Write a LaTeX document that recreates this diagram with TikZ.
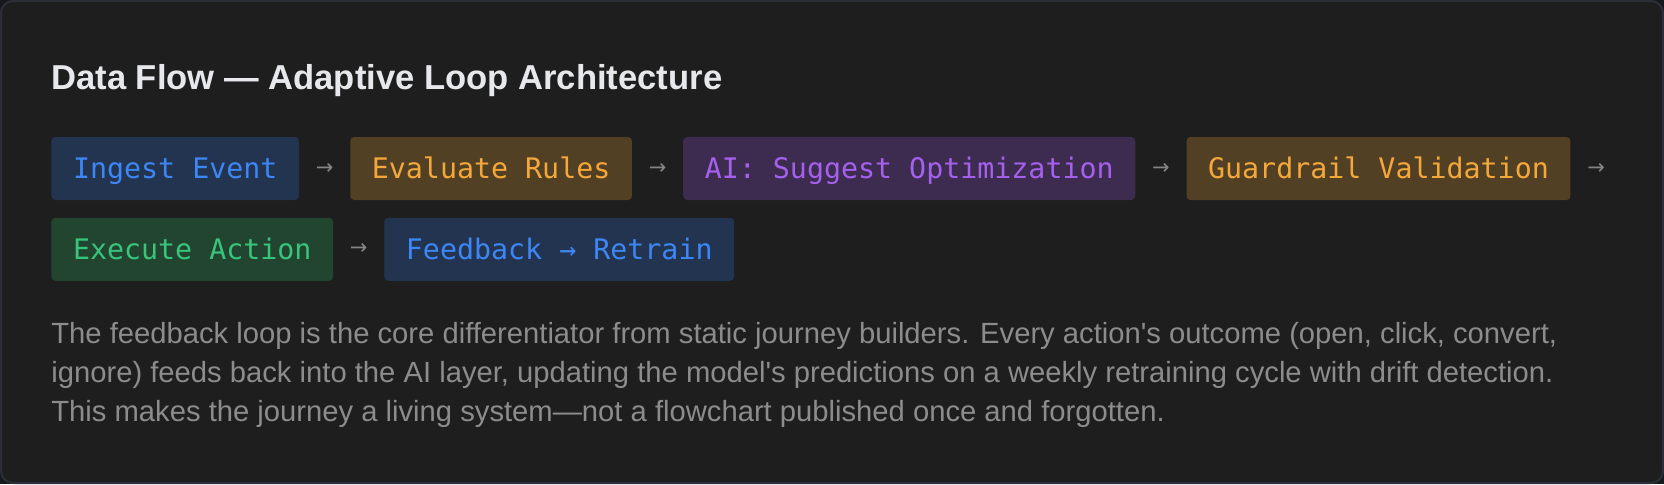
\documentclass[tikz,border=0pt]{standalone}
\usepackage{fontspec}
\usetikzlibrary{positioning}
\newfontfamily\bodyfont{Liberation Sans}
\newfontfamily\codefont{DejaVu Sans Mono}
\newfontfamily\glyphfont{DejaVu Sans}
\definecolor{Page}{HTML}{16181D}
\definecolor{Panel}{HTML}{1E1E1E}
\definecolor{Rim}{HTML}{2C2F37}
\definecolor{Head}{HTML}{E7E8EB}
\definecolor{Note}{HTML}{8C8C8C}
\definecolor{Tip}{HTML}{858585}
\definecolor{BF}{HTML}{233450}
\definecolor{BT}{HTML}{3D86F5}
\definecolor{OF}{HTML}{524024}
\definecolor{OT}{HTML}{F5A83A}
\definecolor{PF}{HTML}{3D2C50}
\definecolor{PT}{HTML}{A560EE}
\definecolor{GF}{HTML}{22452F}
\definecolor{GT}{HTML}{38C47C}
\tikzstyle{stage} = [rounded corners=2pt,
inner xsep=10.8pt, inner ysep=0pt,
minimum height=31.5pt, text height=10.3pt, text depth=0pt,
font=\codefont\fontsize{14.15pt}{16pt}\selectfont]
\tikzstyle{tip} = [inner sep=0pt, minimum width=8.5pt,
text=Tip, font=\glyphfont\fontsize{10.5pt}{12pt}\selectfont]
\tikzstyle{note} = [anchor=base west, inner sep=0pt, text=Note,
font=\bodyfont\fontsize{14.6pt}{19.5pt}\selectfont]

\begin{document}
\begin{tikzpicture}[x=0.5pt,y=-0.5pt]
        \useasboundingbox (0,0) rectangle (1664,484);
        \fill[Page] (0,0) rectangle (1664,484);
        \draw[Rim, fill=Panel, line width=1pt, rounded corners=6pt]
          (1,1) rectangle (1663,483);
        \node[anchor=base west, inner sep=0pt, text=Head,
          font=\bodyfont\bfseries\fontsize{17.3pt}{20pt}\selectfont]
          (title) at (51,89) {Data Flow — Adaptive Loop Architecture};
        % first row of stages
        \foreach \X/\F/\C [count=\Y,remember=\Y as \LastY] in
          {Ingest Event/BF/BT,Evaluate Rules/OF/OT,
           AI: Suggest Optimization/PF/PT,Guardrail Validation/OF/OT}
          {\ifnum\Y=1
        \node[stage, fill=\F, text=\C, anchor=west] (S-\Y) at (51,168.5) {\X};
        \else
        \node[stage, fill=\F, text=\C, right=8pt of T-\LastY] (S-\Y) {\X};
        \fi
        \node[tip, right=8pt of S-\Y] (T-\Y) {→};
          }
        % second row
        \node[stage, fill=GF, text=GT, below=8.5pt of S-1.south west,
          anchor=north west] (execute) {Execute Action};
        \node[tip, right=8pt of execute] (T-5) {→};
        \node[stage, fill=BF, text=BT, right=8pt of T-5] (feedback)
          {Feedback → Retrain};
        % closing note
        \foreach \L [count=\Y] in
          {{The feedback loop is the core differentiator from static journey builders. Every action's outcome (open, click, convert,},
           {ignore) feeds back into the AI layer, updating the model's predictions on a weekly retraining cycle with drift detection.},
           {This makes the journey a living system—not a flowchart published once and forgotten.}}
          {\node[note] (N-\Y) at (51,{343+39*(\Y-1)}) {\L};}
      \end{tikzpicture}
\end{document}
